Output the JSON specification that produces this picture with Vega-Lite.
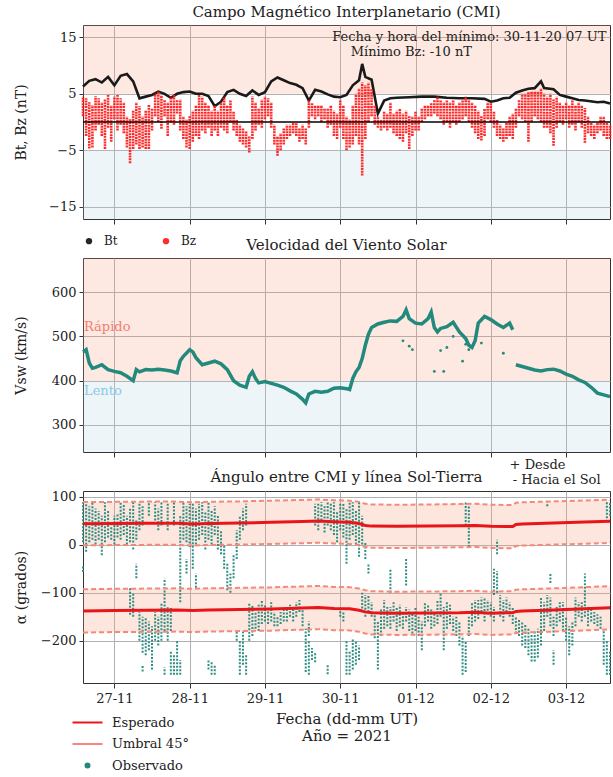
{
"$schema": "https://vega.github.io/schema/vega-lite/v6.json",
"padding": {"left": 13, "top": 4, "right": 0, "bottom": 0},
"background": "white",
"config": {
 "font": "DejaVu Serif",
 "view": {"stroke": "#333333", "strokeWidth": 1},
 "axis": {"domain": false, "labelOverlap": false, "labelFont": "DejaVu Serif", "labelFontSize": 13, "labelColor": "#222222", "titleFont": "DejaVu Serif", "titleFontSize": 14, "titleFontWeight": "normal", "titleColor": "#222222", "gridColor": "#b0b0b0", "gridWidth": 1, "gridOpacity": 1, "tickColor": "#333333", "tickSize": 4, "labelPadding": 3},
 "title": {"font": "DejaVu Serif", "fontSize": 15, "fontWeight": "normal", "color": "#222222", "anchor": "middle"},
 "legend": {"labelFont": "DejaVu Serif", "labelColor": "#222222"}
},
"datasets": {
 "bandas1": [
  {"t": "2021-11-26T14:00", "t2": "2021-12-03T14:00", "lo": 5, "hi": 17.2, "zona": "alta"},
  {"t": "2021-11-26T14:00", "t2": "2021-12-03T14:00", "lo": -17.2, "hi": -5, "zona": "baja"}
 ],
 "bandas2": [
  {"t": "2021-11-26T14:00", "t2": "2021-12-03T14:00", "lo": 500, "hi": 677, "zona": "alta"},
  {"t": "2021-11-26T14:00", "t2": "2021-12-03T14:00", "lo": 400, "hi": 500, "zona": "media"},
  {"t": "2021-11-26T14:00", "t2": "2021-12-03T14:00", "lo": 239, "hi": 400, "zona": "baja"}
 ],
 "bt": [
  {"t":"2021-11-26T14:00","bt":6.3},{"t":"2021-11-26T16:00","bt":7.3},{"t":"2021-11-26T18:00","bt":7.6},{"t":"2021-11-26T20:00","bt":7.0},{"t":"2021-11-26T22:00","bt":8.0},
  {"t":"2021-11-27T00:00","bt":6.5},{"t":"2021-11-27T02:00","bt":8.2},{"t":"2021-11-27T04:00","bt":8.5},{"t":"2021-11-27T06:00","bt":7.2},{"t":"2021-11-27T08:00","bt":4.2},{"t":"2021-11-27T10:00","bt":4.5},{"t":"2021-11-27T12:00","bt":4.8},{"t":"2021-11-27T14:00","bt":5.4},{"t":"2021-11-27T16:00","bt":5.0},{"t":"2021-11-27T18:00","bt":4.3},{"t":"2021-11-27T20:00","bt":5.0},{"t":"2021-11-27T22:00","bt":5.3},
  {"t":"2021-11-28T00:00","bt":5.4},{"t":"2021-11-28T02:00","bt":5.0},{"t":"2021-11-28T04:00","bt":5.0},{"t":"2021-11-28T06:00","bt":4.6},{"t":"2021-11-28T08:00","bt":2.8},{"t":"2021-11-28T10:00","bt":3.6},{"t":"2021-11-28T12:00","bt":5.3},{"t":"2021-11-28T14:00","bt":5.7},{"t":"2021-11-28T16:00","bt":5.0},{"t":"2021-11-28T18:00","bt":4.6},{"t":"2021-11-28T20:00","bt":5.6},{"t":"2021-11-28T22:00","bt":4.8},
  {"t":"2021-11-29T00:00","bt":5.3},{"t":"2021-11-29T02:00","bt":7.2},{"t":"2021-11-29T04:00","bt":7.9},{"t":"2021-11-29T06:00","bt":7.4},{"t":"2021-11-29T08:00","bt":6.9},{"t":"2021-11-29T10:00","bt":6.6},{"t":"2021-11-29T12:00","bt":6.0},{"t":"2021-11-29T14:00","bt":3.8},{"t":"2021-11-29T16:00","bt":5.7},{"t":"2021-11-29T18:00","bt":5.4},{"t":"2021-11-29T20:00","bt":4.9},{"t":"2021-11-29T22:00","bt":4.5},
  {"t":"2021-11-30T00:00","bt":4.4},{"t":"2021-11-30T02:00","bt":4.8},{"t":"2021-11-30T04:00","bt":6.5},{"t":"2021-11-30T06:00","bt":7.4},{"t":"2021-11-30T07:00","bt":10.3},{"t":"2021-11-30T08:00","bt":8.0},{"t":"2021-11-30T10:00","bt":7.5},{"t":"2021-11-30T12:00","bt":1.5},{"t":"2021-11-30T14:00","bt":3.8},{"t":"2021-11-30T16:00","bt":4.2},{"t":"2021-11-30T18:00","bt":4.3},{"t":"2021-11-30T22:00","bt":4.4},
  {"t":"2021-12-01T02:00","bt":4.5},{"t":"2021-12-01T06:00","bt":4.5},{"t":"2021-12-01T10:00","bt":4.3},{"t":"2021-12-01T14:00","bt":4.2},{"t":"2021-12-01T18:00","bt":4.2},{"t":"2021-12-01T22:00","bt":4.1},
  {"t":"2021-12-02T00:00","bt":3.6},{"t":"2021-12-02T02:00","bt":3.8},{"t":"2021-12-02T04:00","bt":4.2},{"t":"2021-12-02T06:00","bt":4.3},{"t":"2021-12-02T08:00","bt":5.2},{"t":"2021-12-02T10:00","bt":5.6},{"t":"2021-12-02T12:00","bt":5.9},{"t":"2021-12-02T14:00","bt":6.0},{"t":"2021-12-02T16:00","bt":7.2},{"t":"2021-12-02T17:00","bt":6.0},{"t":"2021-12-02T20:00","bt":5.8},{"t":"2021-12-02T22:00","bt":4.8},
  {"t":"2021-12-03T00:00","bt":4.5},{"t":"2021-12-03T02:00","bt":4.2},{"t":"2021-12-03T04:00","bt":3.9},{"t":"2021-12-03T06:00","bt":3.8},{"t":"2021-12-03T10:00","bt":3.5},{"t":"2021-12-03T12:00","bt":3.6},{"t":"2021-12-03T14:00","bt":3.3}
 ],
 "bz": [
  {"t":"2021-11-26T14:00","lo":1.0,"hi":4.5},{"t":"2021-11-26T15:00","lo":-2.5,"hi":4.2},{"t":"2021-11-26T16:00","lo":-4.7,"hi":3.5},{"t":"2021-11-26T17:00","lo":-4.5,"hi":3.0},{"t":"2021-11-26T18:00","lo":-1.5,"hi":4.6},{"t":"2021-11-26T19:00","lo":-0.5,"hi":4.2},{"t":"2021-11-26T20:00","lo":-2.5,"hi":3.5},{"t":"2021-11-26T21:00","lo":-4.8,"hi":4.0},{"t":"2021-11-26T22:00","lo":-1.0,"hi":4.8},{"t":"2021-11-26T23:00","lo":-3.5,"hi":3.0},
  {"t":"2021-11-27T00:00","lo":0.5,"hi":4.5},{"t":"2021-11-27T01:00","lo":-1.5,"hi":4.8},{"t":"2021-11-27T02:00","lo":-0.5,"hi":4.2},{"t":"2021-11-27T03:00","lo":-2.0,"hi":3.5},{"t":"2021-11-27T04:00","lo":-4.5,"hi":1.0},{"t":"2021-11-27T05:00","lo":-7.3,"hi":0.5},{"t":"2021-11-27T06:00","lo":-4.8,"hi":2.0},{"t":"2021-11-27T07:00","lo":-4.0,"hi":3.5},{"t":"2021-11-27T08:00","lo":-4.8,"hi":2.8},{"t":"2021-11-27T09:00","lo":-4.5,"hi":1.0},{"t":"2021-11-27T10:00","lo":-4.8,"hi":2.0},{"t":"2021-11-27T11:00","lo":-4.8,"hi":3.0},{"t":"2021-11-27T12:00","lo":-1.5,"hi":2.5},{"t":"2021-11-27T13:00","lo":1.0,"hi":5.0},{"t":"2021-11-27T14:00","lo":0.0,"hi":5.5},{"t":"2021-11-27T15:00","lo":-1.2,"hi":4.8},{"t":"2021-11-27T16:00","lo":1.0,"hi":4.0},{"t":"2021-11-27T17:00","lo":-2.5,"hi":3.5},{"t":"2021-11-27T18:00","lo":0.0,"hi":4.5},{"t":"2021-11-27T19:00","lo":-0.5,"hi":4.8},{"t":"2021-11-27T20:00","lo":1.5,"hi":4.0},{"t":"2021-11-27T21:00","lo":-1.5,"hi":4.0},{"t":"2021-11-27T22:00","lo":-3.0,"hi":1.0},{"t":"2021-11-27T23:00","lo":-4.5,"hi":0.5},
  {"t":"2021-11-28T00:00","lo":-4.8,"hi":1.0},{"t":"2021-11-28T01:00","lo":-3.5,"hi":2.0},{"t":"2021-11-28T02:00","lo":-2.5,"hi":3.0},{"t":"2021-11-28T03:00","lo":-3.0,"hi":4.8},{"t":"2021-11-28T04:00","lo":-1.5,"hi":4.5},{"t":"2021-11-28T05:00","lo":-2.0,"hi":3.5},{"t":"2021-11-28T06:00","lo":-1.0,"hi":3.0},{"t":"2021-11-28T07:00","lo":-2.5,"hi":2.0},{"t":"2021-11-28T08:00","lo":-1.5,"hi":3.0},{"t":"2021-11-28T09:00","lo":-2.5,"hi":2.0},{"t":"2021-11-28T10:00","lo":-1.0,"hi":3.5},{"t":"2021-11-28T11:00","lo":-1.5,"hi":4.5},{"t":"2021-11-28T12:00","lo":-2.0,"hi":3.0},{"t":"2021-11-28T13:00","lo":0.0,"hi":4.0},{"t":"2021-11-28T14:00","lo":-1.5,"hi":2.0},{"t":"2021-11-28T15:00","lo":-2.5,"hi":0.5},{"t":"2021-11-28T16:00","lo":-3.5,"hi":-0.5},{"t":"2021-11-28T17:00","lo":-4.0,"hi":-1.0},{"t":"2021-11-28T18:00","lo":-4.5,"hi":-1.5},{"t":"2021-11-28T19:00","lo":-5.4,"hi":-2.5},{"t":"2021-11-28T20:00","lo":-3.0,"hi":4.5},{"t":"2021-11-28T21:00","lo":-1.5,"hi":3.5},{"t":"2021-11-28T22:00","lo":-0.5,"hi":2.5},{"t":"2021-11-28T23:00","lo":-1.0,"hi":4.0},
  {"t":"2021-11-29T00:00","lo":0.5,"hi":4.5},{"t":"2021-11-29T01:00","lo":1.0,"hi":4.2},{"t":"2021-11-29T02:00","lo":-1.0,"hi":3.5},{"t":"2021-11-29T03:00","lo":-4.0,"hi":-0.5},{"t":"2021-11-29T04:00","lo":-6.0,"hi":-2.5},{"t":"2021-11-29T05:00","lo":-5.0,"hi":-2.0},{"t":"2021-11-29T06:00","lo":-4.0,"hi":-1.0},{"t":"2021-11-29T07:00","lo":-3.0,"hi":-0.5},{"t":"2021-11-29T08:00","lo":-2.5,"hi":-0.5},{"t":"2021-11-29T09:00","lo":-2.0,"hi":0.0},{"t":"2021-11-29T10:00","lo":-2.5,"hi":-0.2},{"t":"2021-11-29T11:00","lo":-3.5,"hi":-1.0},{"t":"2021-11-29T12:00","lo":-3.0,"hi":-0.5},{"t":"2021-11-29T13:00","lo":-4.0,"hi":-1.0},{"t":"2021-11-29T14:00","lo":-1.0,"hi":3.8},{"t":"2021-11-29T15:00","lo":1.0,"hi":3.5},{"t":"2021-11-29T16:00","lo":0.5,"hi":3.0},{"t":"2021-11-29T17:00","lo":1.0,"hi":3.0},{"t":"2021-11-29T18:00","lo":0.0,"hi":3.0},{"t":"2021-11-29T19:00","lo":0.5,"hi":2.5},{"t":"2021-11-29T20:00","lo":-1.0,"hi":2.5},{"t":"2021-11-29T21:00","lo":-0.5,"hi":3.0},{"t":"2021-11-29T22:00","lo":-2.5,"hi":2.0},{"t":"2021-11-29T23:00","lo":-3.0,"hi":1.5},
  {"t":"2021-11-30T00:00","lo":-1.0,"hi":4.0},{"t":"2021-11-30T01:00","lo":-3.0,"hi":3.0},{"t":"2021-11-30T02:00","lo":-5.0,"hi":1.0},{"t":"2021-11-30T03:00","lo":-4.5,"hi":0.5},{"t":"2021-11-30T04:00","lo":-4.0,"hi":3.0},{"t":"2021-11-30T05:00","lo":-2.5,"hi":5.0},{"t":"2021-11-30T06:00","lo":-4.0,"hi":6.0},{"t":"2021-11-30T07:00","lo":-9.5,"hi":7.0},{"t":"2021-11-30T08:00","lo":-3.0,"hi":6.5},{"t":"2021-11-30T09:00","lo":0.0,"hi":7.0},{"t":"2021-11-30T10:00","lo":1.0,"hi":6.0},{"t":"2021-11-30T11:00","lo":-0.5,"hi":3.0},{"t":"2021-11-30T12:00","lo":-1.0,"hi":1.0},{"t":"2021-11-30T13:00","lo":-1.5,"hi":0.5},{"t":"2021-11-30T14:00","lo":-1.0,"hi":2.0},{"t":"2021-11-30T15:00","lo":-1.5,"hi":1.5},{"t":"2021-11-30T16:00","lo":-1.0,"hi":3.5},{"t":"2021-11-30T17:00","lo":-2.0,"hi":1.5},{"t":"2021-11-30T18:00","lo":-2.5,"hi":2.0},{"t":"2021-11-30T19:00","lo":-3.0,"hi":2.5},{"t":"2021-11-30T20:00","lo":-3.5,"hi":1.5},{"t":"2021-11-30T21:00","lo":-2.0,"hi":2.0},{"t":"2021-11-30T22:00","lo":-4.8,"hi":1.0},{"t":"2021-11-30T23:00","lo":-2.5,"hi":1.0},
  {"t":"2021-12-01T00:00","lo":-1.5,"hi":2.0},{"t":"2021-12-01T01:00","lo":-1.5,"hi":1.0},{"t":"2021-12-01T02:00","lo":0.0,"hi":2.5},{"t":"2021-12-01T03:00","lo":0.5,"hi":3.0},{"t":"2021-12-01T04:00","lo":1.0,"hi":3.0},{"t":"2021-12-01T05:00","lo":1.0,"hi":3.5},{"t":"2021-12-01T06:00","lo":1.5,"hi":4.0},{"t":"2021-12-01T07:00","lo":1.0,"hi":4.5},{"t":"2021-12-01T08:00","lo":0.5,"hi":4.0},{"t":"2021-12-01T09:00","lo":-0.5,"hi":3.5},{"t":"2021-12-01T10:00","lo":0.0,"hi":4.0},{"t":"2021-12-01T11:00","lo":-1.0,"hi":3.5},{"t":"2021-12-01T12:00","lo":0.0,"hi":4.0},{"t":"2021-12-01T13:00","lo":-0.5,"hi":3.0},{"t":"2021-12-01T14:00","lo":0.0,"hi":3.5},{"t":"2021-12-01T15:00","lo":0.5,"hi":4.0},{"t":"2021-12-01T16:00","lo":1.0,"hi":4.5},{"t":"2021-12-01T17:00","lo":0.0,"hi":4.0},{"t":"2021-12-01T18:00","lo":-1.0,"hi":3.5},{"t":"2021-12-01T19:00","lo":-2.0,"hi":3.0},{"t":"2021-12-01T20:00","lo":-3.0,"hi":2.0},{"t":"2021-12-01T21:00","lo":-3.3,"hi":1.0},{"t":"2021-12-01T22:00","lo":-2.5,"hi":2.5},{"t":"2021-12-01T23:00","lo":0.5,"hi":3.5},
  {"t":"2021-12-02T00:00","lo":0.0,"hi":3.5},{"t":"2021-12-02T01:00","lo":-1.0,"hi":2.0},{"t":"2021-12-02T02:00","lo":-2.5,"hi":0.5},{"t":"2021-12-02T03:00","lo":-3.0,"hi":-0.5},{"t":"2021-12-02T04:00","lo":-3.5,"hi":-1.0},{"t":"2021-12-02T05:00","lo":-3.0,"hi":0.0},{"t":"2021-12-02T06:00","lo":-2.5,"hi":1.0},{"t":"2021-12-02T07:00","lo":-3.0,"hi":1.5},{"t":"2021-12-02T08:00","lo":-1.0,"hi":2.5},{"t":"2021-12-02T09:00","lo":1.0,"hi":4.0},{"t":"2021-12-02T10:00","lo":0.5,"hi":5.0},{"t":"2021-12-02T11:00","lo":0.0,"hi":5.0},{"t":"2021-12-02T12:00","lo":-3.5,"hi":5.3},{"t":"2021-12-02T13:00","lo":0.0,"hi":5.5},{"t":"2021-12-02T14:00","lo":1.0,"hi":5.5},{"t":"2021-12-02T15:00","lo":0.5,"hi":5.5},{"t":"2021-12-02T16:00","lo":0.0,"hi":6.0},{"t":"2021-12-02T17:00","lo":-1.0,"hi":5.0},{"t":"2021-12-02T18:00","lo":-1.0,"hi":4.5},{"t":"2021-12-02T19:00","lo":-2.0,"hi":5.0},{"t":"2021-12-02T20:00","lo":-4.2,"hi":4.0},{"t":"2021-12-02T21:00","lo":-1.0,"hi":4.5},{"t":"2021-12-02T22:00","lo":0.0,"hi":3.5},{"t":"2021-12-02T23:00","lo":-0.5,"hi":3.0},
  {"t":"2021-12-03T00:00","lo":0.5,"hi":3.5},{"t":"2021-12-03T01:00","lo":-1.0,"hi":3.0},{"t":"2021-12-03T02:00","lo":-0.5,"hi":4.0},{"t":"2021-12-03T03:00","lo":-1.5,"hi":3.0},{"t":"2021-12-03T04:00","lo":0.0,"hi":3.5},{"t":"2021-12-03T05:00","lo":-1.0,"hi":3.0},{"t":"2021-12-03T06:00","lo":-3.7,"hi":2.5},{"t":"2021-12-03T07:00","lo":-2.0,"hi":1.0},{"t":"2021-12-03T08:00","lo":-2.5,"hi":0.0},{"t":"2021-12-03T09:00","lo":-3.0,"hi":-0.5},{"t":"2021-12-03T10:00","lo":-2.0,"hi":0.0},{"t":"2021-12-03T11:00","lo":-1.5,"hi":1.0},{"t":"2021-12-03T12:00","lo":-2.5,"hi":1.0},{"t":"2021-12-03T13:00","lo":-3.0,"hi":0.0},{"t":"2021-12-03T14:00","lo":-3.0,"hi":-0.5}
 ],
 "vsw": [
  {"t":"2021-11-26T14:00","v":465,"s":1},{"t":"2021-11-26T15:00","v":470,"s":1},{"t":"2021-11-26T16:00","v":440,"s":1},{"t":"2021-11-26T17:00","v":428,"s":1},{"t":"2021-11-26T18:00","v":430,"s":1},{"t":"2021-11-26T20:00","v":436,"s":1},{"t":"2021-11-26T22:00","v":425,"s":1},
  {"t":"2021-11-27T00:00","v":421,"s":1},{"t":"2021-11-27T02:00","v":418,"s":1},{"t":"2021-11-27T04:00","v":410,"s":1},{"t":"2021-11-27T06:00","v":400,"s":1},{"t":"2021-11-27T07:00","v":425,"s":1},{"t":"2021-11-27T08:00","v":420,"s":1},{"t":"2021-11-27T10:00","v":425,"s":1},{"t":"2021-11-27T12:00","v":424,"s":1},{"t":"2021-11-27T14:00","v":426,"s":1},{"t":"2021-11-27T16:00","v":424,"s":1},{"t":"2021-11-27T18:00","v":422,"s":1},{"t":"2021-11-27T20:00","v":418,"s":1},{"t":"2021-11-27T21:00","v":445,"s":1},{"t":"2021-11-27T22:00","v":455,"s":1},
  {"t":"2021-11-28T00:00","v":470,"s":1},{"t":"2021-11-28T01:00","v":465,"s":1},{"t":"2021-11-28T02:00","v":452,"s":1},{"t":"2021-11-28T04:00","v":436,"s":1},{"t":"2021-11-28T06:00","v":440,"s":1},{"t":"2021-11-28T08:00","v":444,"s":1},{"t":"2021-11-28T10:00","v":438,"s":1},{"t":"2021-11-28T12:00","v":425,"s":1},{"t":"2021-11-28T14:00","v":400,"s":1},{"t":"2021-11-28T16:00","v":390,"s":1},{"t":"2021-11-28T18:00","v":385,"s":1},{"t":"2021-11-28T19:00","v":410,"s":1},{"t":"2021-11-28T20:00","v":420,"s":1},{"t":"2021-11-28T21:00","v":405,"s":1},{"t":"2021-11-28T22:00","v":395,"s":1},
  {"t":"2021-11-29T00:00","v":398,"s":1},{"t":"2021-11-29T02:00","v":394,"s":1},{"t":"2021-11-29T04:00","v":390,"s":1},{"t":"2021-11-29T06:00","v":385,"s":1},{"t":"2021-11-29T08:00","v":377,"s":1},{"t":"2021-11-29T10:00","v":370,"s":1},{"t":"2021-11-29T12:00","v":358,"s":1},{"t":"2021-11-29T13:00","v":350,"s":1},{"t":"2021-11-29T14:00","v":370,"s":1},{"t":"2021-11-29T16:00","v":376,"s":1},{"t":"2021-11-29T18:00","v":374,"s":1},{"t":"2021-11-29T20:00","v":376,"s":1},{"t":"2021-11-29T22:00","v":383,"s":1},
  {"t":"2021-11-30T00:00","v":384,"s":1},{"t":"2021-11-30T02:00","v":382,"s":1},{"t":"2021-11-30T03:00","v":380,"s":1},{"t":"2021-11-30T04:00","v":405,"s":1},{"t":"2021-11-30T05:00","v":420,"s":1},{"t":"2021-11-30T06:00","v":430,"s":1},{"t":"2021-11-30T07:00","v":450,"s":1},{"t":"2021-11-30T08:00","v":480,"s":1},{"t":"2021-11-30T09:00","v":505,"s":1},{"t":"2021-11-30T10:00","v":520,"s":1},{"t":"2021-11-30T12:00","v":528,"s":1},{"t":"2021-11-30T14:00","v":532,"s":1},{"t":"2021-11-30T16:00","v":535,"s":1},{"t":"2021-11-30T18:00","v":534,"s":1},{"t":"2021-11-30T20:00","v":545,"s":1},{"t":"2021-11-30T21:00","v":560,"s":1},{"t":"2021-11-30T22:00","v":540,"s":1},
  {"t":"2021-12-01T00:00","v":530,"s":1},{"t":"2021-12-01T02:00","v":528,"s":1},{"t":"2021-12-01T04:00","v":540,"s":1},{"t":"2021-12-01T05:00","v":555,"s":1},{"t":"2021-12-01T06:00","v":520,"s":1},{"t":"2021-12-01T07:00","v":510,"s":1},{"t":"2021-12-01T08:00","v":518,"s":1},{"t":"2021-12-01T10:00","v":522,"s":1},{"t":"2021-12-01T12:00","v":532,"s":1},{"t":"2021-12-01T14:00","v":510,"s":1},{"t":"2021-12-01T16:00","v":495,"s":1},{"t":"2021-12-01T17:00","v":480,"s":1},{"t":"2021-12-01T18:00","v":475,"s":1},{"t":"2021-12-01T19:00","v":490,"s":1},{"t":"2021-12-01T20:00","v":530,"s":1},{"t":"2021-12-01T22:00","v":545,"s":1},
  {"t":"2021-12-02T00:00","v":538,"s":1},{"t":"2021-12-02T02:00","v":528,"s":1},{"t":"2021-12-02T04:00","v":520,"s":1},{"t":"2021-12-02T06:00","v":530,"s":1},{"t":"2021-12-02T07:00","v":515,"s":1},
  {"t":"2021-12-02T08:00","v":436,"s":2},{"t":"2021-12-02T10:00","v":432,"s":2},{"t":"2021-12-02T12:00","v":428,"s":2},{"t":"2021-12-02T14:00","v":424,"s":2},{"t":"2021-12-02T16:00","v":422,"s":2},{"t":"2021-12-02T18:00","v":425,"s":2},{"t":"2021-12-02T20:00","v":426,"s":2},{"t":"2021-12-02T22:00","v":422,"s":2},
  {"t":"2021-12-03T00:00","v":415,"s":2},{"t":"2021-12-03T02:00","v":410,"s":2},{"t":"2021-12-03T04:00","v":402,"s":2},{"t":"2021-12-03T06:00","v":396,"s":2},{"t":"2021-12-03T08:00","v":385,"s":2},{"t":"2021-12-03T10:00","v":372,"s":2},{"t":"2021-12-03T12:00","v":368,"s":2},{"t":"2021-12-03T14:00","v":364,"s":2}
 ],
 "vout": [
  {"t":"2021-11-30T20:00","v":490},{"t":"2021-11-30T22:00","v":478},{"t":"2021-11-30T23:00","v":470},{"t":"2021-12-01T06:00","v":421},{"t":"2021-12-01T08:00","v":468},{"t":"2021-12-01T09:00","v":421},{"t":"2021-12-01T10:00","v":475},{"t":"2021-12-01T12:00","v":500},{"t":"2021-12-01T15:00","v":444},{"t":"2021-12-01T16:00","v":482},{"t":"2021-12-01T17:00","v":470},{"t":"2021-12-01T21:00","v":485},{"t":"2021-12-02T04:00","v":462}
 ],
 "esp": [
  {"t":"2021-11-26T14:00","g":"pos","e":43.5,"ulo":-1.5,"uhi":88.5},{"t":"2021-11-27T00:00","g":"pos","e":44,"ulo":-1,"uhi":89},{"t":"2021-11-27T10:00","g":"pos","e":44.5,"ulo":-0.5,"uhi":89.5},{"t":"2021-11-27T20:00","g":"pos","e":44.5,"ulo":-0.5,"uhi":89.5},{"t":"2021-11-28T01:00","g":"pos","e":43,"ulo":-2,"uhi":88},{"t":"2021-11-28T06:00","g":"pos","e":44,"ulo":-1,"uhi":89},{"t":"2021-11-28T16:00","g":"pos","e":45,"ulo":0,"uhi":90},{"t":"2021-11-29T02:00","g":"pos","e":46.5,"ulo":1.5,"uhi":91.5},{"t":"2021-11-29T12:00","g":"pos","e":48,"ulo":3,"uhi":93},{"t":"2021-11-29T17:00","g":"pos","e":49,"ulo":4,"uhi":94},{"t":"2021-11-29T22:00","g":"pos","e":47.5,"ulo":2.5,"uhi":92.5},{"t":"2021-11-30T03:00","g":"pos","e":46.5,"ulo":1.5,"uhi":91.5},{"t":"2021-11-30T06:00","g":"pos","e":44,"ulo":-1,"uhi":89},{"t":"2021-11-30T08:00","g":"pos","e":40,"ulo":-5,"uhi":85},{"t":"2021-11-30T10:00","g":"pos","e":38.5,"ulo":-6.5,"uhi":83.5},{"t":"2021-11-30T18:00","g":"pos","e":38,"ulo":-7,"uhi":83},{"t":"2021-12-01T04:00","g":"pos","e":38.5,"ulo":-6.5,"uhi":83.5},{"t":"2021-12-01T14:00","g":"pos","e":39.5,"ulo":-5.5,"uhi":84.5},{"t":"2021-12-01T19:00","g":"pos","e":40,"ulo":-5,"uhi":85},{"t":"2021-12-02T00:00","g":"pos","e":38,"ulo":-7,"uhi":83},{"t":"2021-12-02T05:00","g":"pos","e":37.5,"ulo":-7.5,"uhi":82.5},{"t":"2021-12-02T07:00","g":"pos","e":37.5,"ulo":-7.5,"uhi":82.5},{"t":"2021-12-02T08:00","g":"pos","e":42,"ulo":-3,"uhi":87},{"t":"2021-12-02T10:00","g":"pos","e":43,"ulo":-2,"uhi":88},{"t":"2021-12-02T20:00","g":"pos","e":45,"ulo":0,"uhi":90},{"t":"2021-12-03T06:00","g":"pos","e":47,"ulo":2,"uhi":92},{"t":"2021-12-03T14:00","g":"pos","e":48.5,"ulo":3.5,"uhi":93.5},
  {"t":"2021-11-26T14:00","g":"neg","e":-138,"ulo":-183,"uhi":-93},{"t":"2021-11-27T00:00","g":"neg","e":-137,"ulo":-182,"uhi":-92},{"t":"2021-11-27T10:00","g":"neg","e":-136.5,"ulo":-181.5,"uhi":-91.5},{"t":"2021-11-27T20:00","g":"neg","e":-136,"ulo":-181,"uhi":-91},{"t":"2021-11-28T01:00","g":"neg","e":-137,"ulo":-182,"uhi":-92},{"t":"2021-11-28T06:00","g":"neg","e":-136,"ulo":-181,"uhi":-91},{"t":"2021-11-28T16:00","g":"neg","e":-135,"ulo":-180,"uhi":-90},{"t":"2021-11-29T02:00","g":"neg","e":-134,"ulo":-179,"uhi":-89},{"t":"2021-11-29T12:00","g":"neg","e":-132,"ulo":-177,"uhi":-87},{"t":"2021-11-29T17:00","g":"neg","e":-131,"ulo":-176,"uhi":-86},{"t":"2021-11-29T22:00","g":"neg","e":-133,"ulo":-178,"uhi":-88},{"t":"2021-11-30T03:00","g":"neg","e":-133.5,"ulo":-178.5,"uhi":-88.5},{"t":"2021-11-30T06:00","g":"neg","e":-136.5,"ulo":-181.5,"uhi":-91.5},{"t":"2021-11-30T08:00","g":"neg","e":-140,"ulo":-185,"uhi":-95},{"t":"2021-11-30T10:00","g":"neg","e":-142,"ulo":-187,"uhi":-97},{"t":"2021-11-30T18:00","g":"neg","e":-143,"ulo":-188,"uhi":-98},{"t":"2021-12-01T04:00","g":"neg","e":-142.5,"ulo":-187.5,"uhi":-97.5},{"t":"2021-12-01T14:00","g":"neg","e":-142,"ulo":-187,"uhi":-97},{"t":"2021-12-01T19:00","g":"neg","e":-141,"ulo":-186,"uhi":-96},{"t":"2021-12-02T00:00","g":"neg","e":-143,"ulo":-188,"uhi":-98},{"t":"2021-12-02T05:00","g":"neg","e":-142,"ulo":-187,"uhi":-97},{"t":"2021-12-02T07:00","g":"neg","e":-142,"ulo":-187,"uhi":-97},{"t":"2021-12-02T08:00","g":"neg","e":-139,"ulo":-184,"uhi":-94},{"t":"2021-12-02T10:00","g":"neg","e":-138,"ulo":-183,"uhi":-93},{"t":"2021-12-02T20:00","g":"neg","e":-136,"ulo":-181,"uhi":-91},{"t":"2021-12-03T06:00","g":"neg","e":-133.5,"ulo":-178.5,"uhi":-88.5},{"t":"2021-12-03T14:00","g":"neg","e":-131.5,"ulo":-176.5,"uhi":-86.5}
 ],
 "obs": [
  {"t":"2021-11-26T14:00","lo":5,"hi":88},{"t":"2021-11-26T14:00","lo":-57,"hi":-43},{"t":"2021-11-26T15:00","lo":-15,"hi":85},{"t":"2021-11-26T16:00","lo":5,"hi":80},{"t":"2021-11-26T17:00","lo":10,"hi":88},{"t":"2021-11-26T18:00","lo":0,"hi":75},{"t":"2021-11-26T19:00","lo":10,"hi":70},{"t":"2021-11-26T20:00","lo":-22,"hi":60},{"t":"2021-11-26T21:00","lo":5,"hi":88},{"t":"2021-11-26T22:00","lo":15,"hi":70},{"t":"2021-11-26T23:00","lo":10,"hi":40},
  {"t":"2021-11-27T00:00","lo":0,"hi":60},{"t":"2021-11-27T01:00","lo":15,"hi":65},{"t":"2021-11-27T02:00","lo":10,"hi":88},{"t":"2021-11-27T03:00","lo":20,"hi":85},{"t":"2021-11-27T04:00","lo":0,"hi":60},{"t":"2021-11-27T05:00","lo":5,"hi":75},{"t":"2021-11-27T05:00","lo":-146,"hi":-91},{"t":"2021-11-27T06:00","lo":-10,"hi":88},{"t":"2021-11-27T06:00","lo":-150,"hi":-100},{"t":"2021-11-27T07:00","lo":10,"hi":50},{"t":"2021-11-27T07:00","lo":-70,"hi":-40},{"t":"2021-11-27T08:00","lo":30,"hi":88},{"t":"2021-11-27T08:00","lo":-200,"hi":-140},{"t":"2021-11-27T09:00","lo":40,"hi":80},{"t":"2021-11-27T09:00","lo":-225,"hi":-150},{"t":"2021-11-27T09:00","lo":-264,"hi":-250},{"t":"2021-11-27T10:00","lo":-230,"hi":-150},{"t":"2021-11-27T11:00","lo":60,"hi":88},{"t":"2021-11-27T11:00","lo":-220,"hi":-160},{"t":"2021-11-27T12:00","lo":-260,"hi":-170},{"t":"2021-11-27T13:00","lo":50,"hi":88},{"t":"2021-11-27T13:00","lo":-200,"hi":-140},{"t":"2021-11-27T14:00","lo":30,"hi":75},{"t":"2021-11-27T14:00","lo":-210,"hi":-150},{"t":"2021-11-27T15:00","lo":40,"hi":88},{"t":"2021-11-27T15:00","lo":-200,"hi":-120},{"t":"2021-11-27T16:00","lo":-180,"hi":-70},{"t":"2021-11-27T16:00","lo":-271,"hi":-255},{"t":"2021-11-27T17:00","lo":30,"hi":88},{"t":"2021-11-27T17:00","lo":-200,"hi":-130},{"t":"2021-11-27T18:00","lo":-271,"hi":-220},{"t":"2021-11-27T18:00","lo":-180,"hi":-130},{"t":"2021-11-27T19:00","lo":40,"hi":88},{"t":"2021-11-27T19:00","lo":-271,"hi":-230},{"t":"2021-11-27T20:00","lo":-271,"hi":-200},{"t":"2021-11-27T21:00","lo":-120,"hi":60},{"t":"2021-11-27T21:00","lo":-271,"hi":-240},{"t":"2021-11-27T22:00","lo":10,"hi":88},{"t":"2021-11-27T23:00","lo":5,"hi":80},{"t":"2021-11-27T23:00","lo":-60,"hi":-30},
  {"t":"2021-11-28T00:00","lo":-5,"hi":85},{"t":"2021-11-28T01:00","lo":-50,"hi":88},{"t":"2021-11-28T02:00","lo":0,"hi":75},{"t":"2021-11-28T02:00","lo":-90,"hi":-60},{"t":"2021-11-28T03:00","lo":10,"hi":85},{"t":"2021-11-28T04:00","lo":20,"hi":88},{"t":"2021-11-28T05:00","lo":-10,"hi":70},{"t":"2021-11-28T06:00","lo":10,"hi":88},{"t":"2021-11-28T06:00","lo":-260,"hi":-240},{"t":"2021-11-28T07:00","lo":0,"hi":70},{"t":"2021-11-28T07:00","lo":-271,"hi":-245},{"t":"2021-11-28T08:00","lo":20,"hi":80},{"t":"2021-11-28T08:00","lo":-271,"hi":-250},{"t":"2021-11-28T09:00","lo":-10,"hi":60},{"t":"2021-11-28T10:00","lo":-20,"hi":30},{"t":"2021-11-28T11:00","lo":-50,"hi":0},{"t":"2021-11-28T12:00","lo":-95,"hi":-40},{"t":"2021-11-28T13:00","lo":-100,"hi":-60},{"t":"2021-11-28T14:00","lo":-70,"hi":-20},{"t":"2021-11-28T15:00","lo":-30,"hi":30},{"t":"2021-11-28T15:00","lo":-200,"hi":-180},{"t":"2021-11-28T16:00","lo":10,"hi":60},{"t":"2021-11-28T16:00","lo":-271,"hi":-200},{"t":"2021-11-28T17:00","lo":30,"hi":75},{"t":"2021-11-28T17:00","lo":-250,"hi":-181},{"t":"2021-11-28T18:00","lo":40,"hi":85},{"t":"2021-11-28T18:00","lo":-271,"hi":-230},{"t":"2021-11-28T19:00","lo":-200,"hi":-120},{"t":"2021-11-28T20:00","lo":-190,"hi":-125},{"t":"2021-11-28T21:00","lo":-175,"hi":-140},{"t":"2021-11-28T22:00","lo":-180,"hi":-125},{"t":"2021-11-28T23:00","lo":-165,"hi":-115},
  {"t":"2021-11-29T00:00","lo":-160,"hi":-125},{"t":"2021-11-29T01:00","lo":-165,"hi":-130},{"t":"2021-11-29T02:00","lo":-160,"hi":-120},{"t":"2021-11-29T03:00","lo":-170,"hi":-140},{"t":"2021-11-29T04:00","lo":-170,"hi":-150},{"t":"2021-11-29T05:00","lo":-165,"hi":-140},{"t":"2021-11-29T06:00","lo":-160,"hi":-135},{"t":"2021-11-29T07:00","lo":-160,"hi":-130},{"t":"2021-11-29T08:00","lo":-150,"hi":-125},{"t":"2021-11-29T09:00","lo":-160,"hi":-130},{"t":"2021-11-29T10:00","lo":-150,"hi":-120},{"t":"2021-11-29T11:00","lo":-140,"hi":-115},{"t":"2021-11-29T12:00","lo":-170,"hi":-135},{"t":"2021-11-29T13:00","lo":-265,"hi":-175},{"t":"2021-11-29T14:00","lo":-271,"hi":-200},{"t":"2021-11-29T14:00","lo":-190,"hi":-160},{"t":"2021-11-29T15:00","lo":-240,"hi":-215},{"t":"2021-11-29T16:00","lo":40,"hi":85},{"t":"2021-11-29T16:00","lo":-245,"hi":-225},{"t":"2021-11-29T17:00","lo":30,"hi":88},{"t":"2021-11-29T18:00","lo":50,"hi":88},{"t":"2021-11-29T19:00","lo":25,"hi":80},{"t":"2021-11-29T20:00","lo":40,"hi":88},{"t":"2021-11-29T20:00","lo":-270,"hi":-250},{"t":"2021-11-29T21:00","lo":30,"hi":85},{"t":"2021-11-29T22:00","lo":20,"hi":88},{"t":"2021-11-29T23:00","lo":5,"hi":70},
  {"t":"2021-11-30T00:00","lo":30,"hi":88},{"t":"2021-11-30T00:00","lo":-150,"hi":-130},{"t":"2021-11-30T01:00","lo":15,"hi":85},{"t":"2021-11-30T01:00","lo":-160,"hi":-140},{"t":"2021-11-30T02:00","lo":-40,"hi":75},{"t":"2021-11-30T02:00","lo":-271,"hi":-200},{"t":"2021-11-30T03:00","lo":10,"hi":88},{"t":"2021-11-30T03:00","lo":-271,"hi":-220},{"t":"2021-11-30T04:00","lo":20,"hi":88},{"t":"2021-11-30T04:00","lo":-260,"hi":-195},{"t":"2021-11-30T05:00","lo":0,"hi":70},{"t":"2021-11-30T05:00","lo":-250,"hi":-200},{"t":"2021-11-30T06:00","lo":-25,"hi":88},{"t":"2021-11-30T06:00","lo":-240,"hi":-210},{"t":"2021-11-30T07:00","lo":0,"hi":60},{"t":"2021-11-30T07:00","lo":-140,"hi":-100},{"t":"2021-11-30T08:00","lo":-30,"hi":5},{"t":"2021-11-30T08:00","lo":-150,"hi":-105},{"t":"2021-11-30T09:00","lo":-140,"hi":-105},{"t":"2021-11-30T09:00","lo":-60,"hi":-40},{"t":"2021-11-30T10:00","lo":-150,"hi":-120},{"t":"2021-11-30T11:00","lo":-195,"hi":-140},{"t":"2021-11-30T12:00","lo":-260,"hi":-160},{"t":"2021-11-30T13:00","lo":-190,"hi":-135},{"t":"2021-11-30T14:00","lo":-175,"hi":-115},{"t":"2021-11-30T15:00","lo":-170,"hi":-130},{"t":"2021-11-30T16:00","lo":-100,"hi":-50},{"t":"2021-11-30T16:00","lo":-175,"hi":-130},{"t":"2021-11-30T17:00","lo":-160,"hi":-120},{"t":"2021-11-30T18:00","lo":-180,"hi":-130},{"t":"2021-11-30T19:00","lo":-170,"hi":-125},{"t":"2021-11-30T20:00","lo":-175,"hi":-140},{"t":"2021-11-30T21:00","lo":-85,"hi":-30},{"t":"2021-11-30T21:00","lo":-160,"hi":-130},{"t":"2021-11-30T22:00","lo":-180,"hi":-135},{"t":"2021-11-30T23:00","lo":-185,"hi":-140},
  {"t":"2021-12-01T00:00","lo":-180,"hi":-130},{"t":"2021-12-01T01:00","lo":-190,"hi":-150},{"t":"2021-12-01T02:00","lo":-220,"hi":-160},{"t":"2021-12-01T03:00","lo":-170,"hi":-120},{"t":"2021-12-01T04:00","lo":-160,"hi":-125},{"t":"2021-12-01T05:00","lo":-175,"hi":-135},{"t":"2021-12-01T06:00","lo":-170,"hi":-140},{"t":"2021-12-01T07:00","lo":-165,"hi":-115},{"t":"2021-12-01T08:00","lo":-150,"hi":-100},{"t":"2021-12-01T09:00","lo":-220,"hi":-130},{"t":"2021-12-01T10:00","lo":-175,"hi":-120},{"t":"2021-12-01T11:00","lo":-165,"hi":-125},{"t":"2021-12-01T12:00","lo":-180,"hi":-150},{"t":"2021-12-01T13:00","lo":-190,"hi":-150},{"t":"2021-12-01T14:00","lo":-210,"hi":-160},{"t":"2021-12-01T15:00","lo":-271,"hi":-190},{"t":"2021-12-01T16:00","lo":-265,"hi":-200},{"t":"2021-12-01T16:00","lo":40,"hi":88},{"t":"2021-12-01T17:00","lo":-5,"hi":80},{"t":"2021-12-01T17:00","lo":-190,"hi":-150},{"t":"2021-12-01T18:00","lo":-170,"hi":-120},{"t":"2021-12-01T19:00","lo":-160,"hi":-115},{"t":"2021-12-01T20:00","lo":-155,"hi":-115},{"t":"2021-12-01T21:00","lo":-140,"hi":-110},{"t":"2021-12-01T22:00","lo":-160,"hi":-110},{"t":"2021-12-01T23:00","lo":-145,"hi":-115},
  {"t":"2021-12-02T00:00","lo":-150,"hi":-120},{"t":"2021-12-02T01:00","lo":-105,"hi":-50},{"t":"2021-12-02T01:00","lo":-160,"hi":-130},{"t":"2021-12-02T02:00","lo":-100,"hi":-55},{"t":"2021-12-02T02:00","lo":-20,"hi":10},{"t":"2021-12-02T03:00","lo":-150,"hi":-105},{"t":"2021-12-02T04:00","lo":-160,"hi":-115},{"t":"2021-12-02T05:00","lo":-140,"hi":-110},{"t":"2021-12-02T06:00","lo":-150,"hi":-120},{"t":"2021-12-02T07:00","lo":-165,"hi":-130},{"t":"2021-12-02T08:00","lo":-185,"hi":-150},{"t":"2021-12-02T09:00","lo":-190,"hi":-155},{"t":"2021-12-02T10:00","lo":-210,"hi":-160},{"t":"2021-12-02T11:00","lo":-215,"hi":-165},{"t":"2021-12-02T12:00","lo":-230,"hi":-175},{"t":"2021-12-02T13:00","lo":-243,"hi":-185},{"t":"2021-12-02T14:00","lo":-243,"hi":-180},{"t":"2021-12-02T15:00","lo":-235,"hi":-175},{"t":"2021-12-02T16:00","lo":-210,"hi":-110},{"t":"2021-12-02T17:00","lo":-180,"hi":-120},{"t":"2021-12-02T18:00","lo":-150,"hi":-105},{"t":"2021-12-02T18:00","lo":80,"hi":88},{"t":"2021-12-02T19:00","lo":-170,"hi":-110},{"t":"2021-12-02T19:00","lo":-80,"hi":-60},{"t":"2021-12-02T20:00","lo":-190,"hi":-150},{"t":"2021-12-02T20:00","lo":-250,"hi":-220},{"t":"2021-12-02T21:00","lo":-170,"hi":-130},{"t":"2021-12-02T22:00","lo":-160,"hi":-120},{"t":"2021-12-02T23:00","lo":-180,"hi":-120},
  {"t":"2021-12-03T00:00","lo":-200,"hi":-150},{"t":"2021-12-03T01:00","lo":-230,"hi":-170},{"t":"2021-12-03T02:00","lo":-210,"hi":-160},{"t":"2021-12-03T03:00","lo":-170,"hi":-110},{"t":"2021-12-03T04:00","lo":-150,"hi":-120},{"t":"2021-12-03T05:00","lo":-160,"hi":-120},{"t":"2021-12-03T06:00","lo":-150,"hi":-60},{"t":"2021-12-03T07:00","lo":-170,"hi":-130},{"t":"2021-12-03T08:00","lo":-160,"hi":-135},{"t":"2021-12-03T09:00","lo":-165,"hi":-140},{"t":"2021-12-03T10:00","lo":-170,"hi":-145},{"t":"2021-12-03T11:00","lo":-175,"hi":-150},{"t":"2021-12-03T12:00","lo":-250,"hi":-180},{"t":"2021-12-03T13:00","lo":-271,"hi":-200},{"t":"2021-12-03T13:00","lo":55,"hi":88},{"t":"2021-12-03T14:00","lo":-271,"hi":-220},{"t":"2021-12-03T14:00","lo":60,"hi":88}
 ]
},
"resolve": {"scale": {"color": "independent"}, "legend": {"color": "independent"}},
"bounds": "flush",
"spacing": 39,
"vconcat": [
 {
  "width": 527, "height": 194,
  "title": {"text": "Campo Magnético Interplanetario (CMI)", "offset": 5},
  "layer": [
   {"data": {"name": "bandas1", "format": {"parse": {"t": "date", "t2": "date"}}}, "mark": {"type": "rect", "fillOpacity": 0.22},
    "encoding": {
     "x": {"field": "t", "type": "temporal", "title": null, "scale": {"domain": [{"year": 2021, "month": 11, "date": 26, "hours": 14}, {"year": 2021, "month": 12, "date": 3, "hours": 14}]}, "axis": {"labels": false, "tickCount": {"interval": "day", "step": 1}, "tickSize": 5}},
     "x2": {"field": "t2"},
     "y": {"field": "lo", "type": "quantitative", "title": "Bt, Bz (nT)", "scale": {"domain": [-17.2, 17.2], "nice": false, "zero": false}, "axis": {"values": [-15, -10, -5, 0, 5, 10, 15], "titleX": -55}},
     "y2": {"field": "hi"},
     "fill": {"field": "zona", "type": "nominal", "scale": {"domain": ["alta", "baja"], "range": ["#f79b77", "#abd3e3"]}, "legend": null}
    }},
   {"data": {"name": "bt"}, "mark": {"type": "line", "strokeWidth": 2.6},
    "encoding": {
     "x": {"field": "t", "type": "temporal", "title": null, "scale": {"domain": [{"year": 2021, "month": 11, "date": 26, "hours": 14}, {"year": 2021, "month": 12, "date": 3, "hours": 14}]}},
     "y": {"field": "bt", "type": "quantitative", "title": "Bt, Bz (nT)", "scale": {"domain": [-17.2, 17.2], "nice": false, "zero": false}},
     "color": {"datum": "Bt", "scale": {"domain": ["Bt", "Bz"], "range": ["#1a1a1a", "#ff1f1f"]},
       "legend": {"title": null, "orient": "none", "legendX": 0, "legendY": 210, "direction": "horizontal", "symbolType": "circle", "symbolSize": 12, "symbolStrokeWidth": 3, "labelFontSize": 12, "labelOffset": 9, "columnPadding": 40}}
    }},
   {"data": {"name": "bz"}, "mark": {"type": "rule", "strokeWidth": 2.6, "strokeDash": [2, 0.8], "opacity": 0.95},
    "encoding": {
     "x": {"field": "t", "type": "temporal", "title": null, "scale": {"domain": [{"year": 2021, "month": 11, "date": 26, "hours": 14}, {"year": 2021, "month": 12, "date": 3, "hours": 14}]}},
     "y": {"field": "lo", "type": "quantitative", "title": "Bt, Bz (nT)", "scale": {"domain": [-17.2, 17.2], "nice": false, "zero": false}},
     "y2": {"field": "hi"},
     "color": {"datum": "Bz"}
    }},
   {"data": {"values": [{"cero": 0}]}, "mark": {"type": "rule", "color": "#000000", "strokeWidth": 1.3},
    "encoding": {"y": {"field": "cero", "type": "quantitative", "title": "Bt, Bz (nT)", "scale": {"domain": [-17.2, 17.2], "nice": false, "zero": false}}}},
   {"data": {"values": [{"t": "2021-12-03T12:50", "v": 15.0, "txt": "Fecha y hora del mínimo: 30-11-20 07 UT"}]}, "mark": {"type": "text", "align": "right", "baseline": "middle", "fontSize": 13, "font": "DejaVu Serif", "color": "#222222"},
    "encoding": {
     "x": {"field": "t", "type": "temporal", "title": null, "scale": {"domain": [{"year": 2021, "month": 11, "date": 26, "hours": 14}, {"year": 2021, "month": 12, "date": 3, "hours": 14}]}},
     "y": {"field": "v", "type": "quantitative", "title": "Bt, Bz (nT)", "scale": {"domain": [-17.2, 17.2], "nice": false, "zero": false}},
     "text": {"field": "txt"}}},
   {"data": {"values": [{"t": "2021-11-30T22:40", "v": 12.5, "txt": "Mínimo Bz: -10 nT"}]}, "mark": {"type": "text", "align": "center", "baseline": "middle", "fontSize": 13, "font": "DejaVu Serif", "color": "#222222"},
    "encoding": {
     "x": {"field": "t", "type": "temporal", "title": null, "scale": {"domain": [{"year": 2021, "month": 11, "date": 26, "hours": 14}, {"year": 2021, "month": 12, "date": 3, "hours": 14}]}},
     "y": {"field": "v", "type": "quantitative", "title": "Bt, Bz (nT)", "scale": {"domain": [-17.2, 17.2], "nice": false, "zero": false}},
     "text": {"field": "txt"}}}
  ]
 },
 {
  "width": 527, "height": 194,
  "title": {"text": "Velocidad del Viento Solar", "offset": 5},
  "layer": [
   {"data": {"name": "bandas2", "format": {"parse": {"t": "date", "t2": "date"}}}, "mark": {"type": "rect", "fillOpacity": 0.22},
    "encoding": {
     "x": {"field": "t", "type": "temporal", "title": null, "scale": {"domain": [{"year": 2021, "month": 11, "date": 26, "hours": 14}, {"year": 2021, "month": 12, "date": 3, "hours": 14}]}, "axis": {"labels": false, "tickCount": {"interval": "day", "step": 1}, "tickSize": 5}},
     "x2": {"field": "t2"},
     "y": {"field": "lo", "type": "quantitative", "title": "Vsw (km/s)", "scale": {"domain": [239, 677], "nice": false, "zero": false}, "axis": {"values": [300, 400, 500, 600], "titleX": -55}},
     "y2": {"field": "hi"},
     "fill": {"field": "zona", "type": "nominal", "scale": {"domain": ["alta", "media", "baja"], "range": ["#f79b77", "#9beb93", "#abd3e3"]}, "legend": null}
    }},
   {"data": {"name": "vsw"}, "mark": {"type": "line", "strokeWidth": 3.5, "color": "#23897d"},
    "encoding": {
     "x": {"field": "t", "type": "temporal", "title": null, "scale": {"domain": [{"year": 2021, "month": 11, "date": 26, "hours": 14}, {"year": 2021, "month": 12, "date": 3, "hours": 14}]}},
     "y": {"field": "v", "type": "quantitative", "title": "Vsw (km/s)", "scale": {"domain": [239, 677], "nice": false, "zero": false}},
     "detail": {"field": "s", "type": "nominal"}
    }},
   {"data": {"name": "vout"}, "mark": {"type": "point", "filled": true, "size": 8, "color": "#23897d", "opacity": 1},
    "encoding": {
     "x": {"field": "t", "type": "temporal", "title": null, "scale": {"domain": [{"year": 2021, "month": 11, "date": 26, "hours": 14}, {"year": 2021, "month": 12, "date": 3, "hours": 14}]}},
     "y": {"field": "v", "type": "quantitative", "title": "Vsw (km/s)", "scale": {"domain": [239, 677], "nice": false, "zero": false}}
    }},
   {"data": {"values": [{"t": "2021-11-26T14:00", "v": 521, "txt": "Rápido"}]}, "mark": {"type": "text", "align": "left", "baseline": "middle", "fontSize": 13, "font": "DejaVu Serif", "color": "#f08070", "dx": 1},
    "encoding": {
     "x": {"field": "t", "type": "temporal", "title": null, "scale": {"domain": [{"year": 2021, "month": 11, "date": 26, "hours": 14}, {"year": 2021, "month": 12, "date": 3, "hours": 14}]}},
     "y": {"field": "v", "type": "quantitative", "title": "Vsw (km/s)", "scale": {"domain": [239, 677], "nice": false, "zero": false}},
     "text": {"field": "txt"}}},
   {"data": {"values": [{"t": "2021-11-26T14:00", "v": 377, "txt": "Lento"}]}, "mark": {"type": "text", "align": "left", "baseline": "middle", "fontSize": 13, "font": "DejaVu Serif", "color": "#8cc8e8", "dx": 1},
    "encoding": {
     "x": {"field": "t", "type": "temporal", "title": null, "scale": {"domain": [{"year": 2021, "month": 11, "date": 26, "hours": 14}, {"year": 2021, "month": 12, "date": 3, "hours": 14}]}},
     "y": {"field": "v", "type": "quantitative", "title": "Vsw (km/s)", "scale": {"domain": [239, 677], "nice": false, "zero": false}},
     "text": {"field": "txt"}}}
  ]
 },
 {
  "width": 527, "height": 192,
  "layer": [
   {"data": {"name": "esp"}, "mark": {"type": "area", "fill": "#f79b77", "fillOpacity": 0.25},
    "encoding": {
     "x": {"field": "t", "type": "temporal", "scale": {"domain": [{"year": 2021, "month": 11, "date": 26, "hours": 14}, {"year": 2021, "month": 12, "date": 3, "hours": 14}]}, "axis": {"format": "%d-%m", "tickCount": {"interval": "day", "step": 1}, "tickSize": 5, "labelPadding": 4, "title": ["Fecha (dd-mm UT)", "Año = 2021"], "titleFontSize": 15, "titlePadding": 6}},
     "y": {"field": "ulo", "type": "quantitative", "title": "α (grados)", "scale": {"domain": [-288, 111.6], "nice": false, "zero": false}, "axis": {"values": [-200, -100, 0, 100], "titleX": -55}},
     "y2": {"field": "uhi"},
     "detail": {"field": "g", "type": "nominal"}
    }},
   {"data": {"name": "obs"}, "mark": {"type": "rule", "strokeWidth": 2, "strokeDash": [2, 1.5], "opacity": 0.95},
    "encoding": {
     "x": {"field": "t", "type": "temporal", "scale": {"domain": [{"year": 2021, "month": 11, "date": 26, "hours": 14}, {"year": 2021, "month": 12, "date": 3, "hours": 14}]}},
     "y": {"field": "lo", "type": "quantitative", "title": "α (grados)", "scale": {"domain": [-288, 111.6], "nice": false, "zero": false}},
     "y2": {"field": "hi"},
     "color": {"datum": "Observado"}
    }},
   {"data": {"name": "esp"}, "mark": {"type": "line", "strokeWidth": 2, "strokeDash": [5, 3]},
    "encoding": {
     "x": {"field": "t", "type": "temporal", "scale": {"domain": [{"year": 2021, "month": 11, "date": 26, "hours": 14}, {"year": 2021, "month": 12, "date": 3, "hours": 14}]}},
     "y": {"field": "uhi", "type": "quantitative", "title": "α (grados)", "scale": {"domain": [-288, 111.6], "nice": false, "zero": false}},
     "detail": {"field": "g", "type": "nominal"},
     "color": {"datum": "Umbral 45°"}
    }},
   {"data": {"name": "esp"}, "mark": {"type": "line", "strokeWidth": 2, "strokeDash": [5, 3]},
    "encoding": {
     "x": {"field": "t", "type": "temporal", "scale": {"domain": [{"year": 2021, "month": 11, "date": 26, "hours": 14}, {"year": 2021, "month": 12, "date": 3, "hours": 14}]}},
     "y": {"field": "ulo", "type": "quantitative", "title": "α (grados)", "scale": {"domain": [-288, 111.6], "nice": false, "zero": false}},
     "detail": {"field": "g", "type": "nominal"},
     "color": {"datum": "Umbral 45°"}
    }},
   {"data": {"name": "esp"}, "mark": {"type": "line", "strokeWidth": 3},
    "encoding": {
     "x": {"field": "t", "type": "temporal", "scale": {"domain": [{"year": 2021, "month": 11, "date": 26, "hours": 14}, {"year": 2021, "month": 12, "date": 3, "hours": 14}]}},
     "y": {"field": "e", "type": "quantitative", "title": "α (grados)", "scale": {"domain": [-288, 111.6], "nice": false, "zero": false}},
     "detail": {"field": "g", "type": "nominal"},
     "color": {"datum": "Esperado", "scale": {"domain": ["Esperado", "Umbral 45°", "Observado"], "range": ["#e8161b", "#f4897b", "#23897d"]},
      "legend": {"title": null, "orient": "none", "legendX": -2, "legendY": 225, "direction": "vertical", "symbolSize": 100, "symbolStrokeWidth": 2, "labelFontSize": 13, "labelOffset": 18, "rowPadding": 7.5,
       "encode": {"symbols": {"update": {
         "shape": {"signal": "datum.value === 'Observado' ? 'circle' : 'M-3,0H3'"},
         "size": {"signal": "datum.value === 'Observado' ? 16 : 100"},
         "fill": {"signal": "datum.value === 'Observado' ? '#23897d' : 'transparent'"},
         "stroke": {"signal": "datum.value === 'Observado' ? 'transparent' : (datum.value === 'Esperado' ? '#e8161b' : '#f4897b')"},
         "opacity": {"value": 1}}}}}}
    }},
   {"data": {"values": [{"t": "2021-12-02T06:00", "v": 166, "txt": "+ Desde"}, {"t": "2021-12-02T07:00", "v": 134.5, "txt": "- Hacia el Sol"}]}, "mark": {"type": "text", "align": "left", "baseline": "middle", "fontSize": 13, "font": "DejaVu Serif", "color": "#222222"},
    "encoding": {
     "x": {"field": "t", "type": "temporal", "scale": {"domain": [{"year": 2021, "month": 11, "date": 26, "hours": 14}, {"year": 2021, "month": 12, "date": 3, "hours": 14}]}},
     "y": {"field": "v", "type": "quantitative", "title": "α (grados)", "scale": {"domain": [-288, 111.6], "nice": false, "zero": false}},
     "text": {"field": "txt"}}},
   {"data": {"values": [{"t": "2021-11-30T02:00", "v": 140, "txt": "Ángulo entre CMI y línea Sol-Tierra"}]}, "mark": {"type": "text", "align": "center", "baseline": "middle", "fontSize": 15, "font": "DejaVu Serif", "color": "#222222"},
    "encoding": {
     "x": {"field": "t", "type": "temporal", "scale": {"domain": [{"year": 2021, "month": 11, "date": 26, "hours": 14}, {"year": 2021, "month": 12, "date": 3, "hours": 14}]}},
     "y": {"field": "v", "type": "quantitative", "title": "α (grados)", "scale": {"domain": [-288, 111.6], "nice": false, "zero": false}},
     "text": {"field": "txt"}}}
  ]
 }
]
}
